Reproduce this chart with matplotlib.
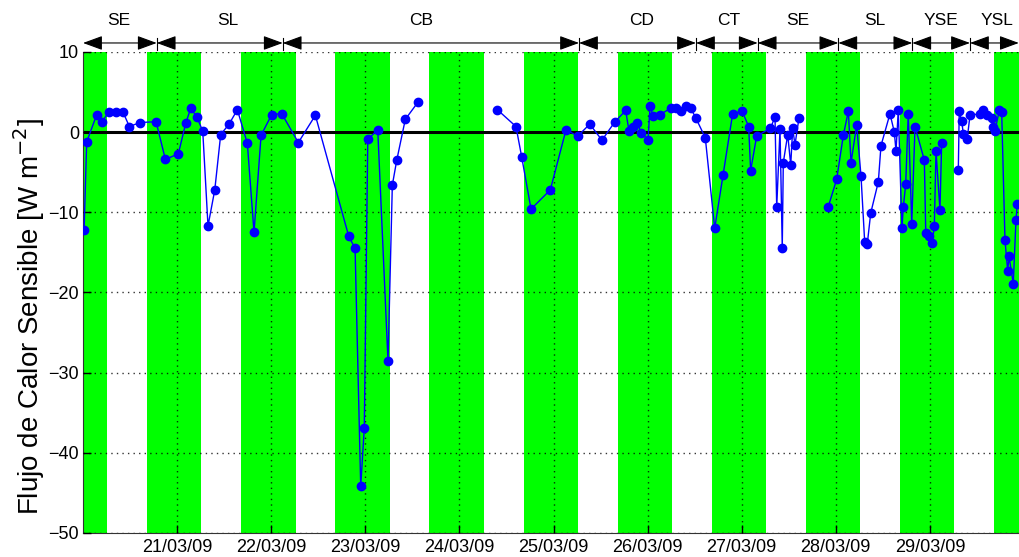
import numpy as np
import matplotlib
matplotlib.use('Agg')
import matplotlib.pyplot as plt
import matplotlib.transforms as mtransforms

plt.rcParams['font.family'] = ['Liberation Sans', 'DejaVu Sans']

# Time in days since 20/03/09 00:00, NaN marks a gap in the record
t = [0.011, 0.039, 0.146, 0.202, 0.273, 0.351, 0.425, 0.492, 0.606, 0.776,
     0.875, 1.013, 1.091, 1.145, 1.208, 1.272, 1.328, 1.400, 1.463, 1.552,
     1.640, 1.746, 1.817, 1.892, 2.005, 2.112, 2.288, 2.469, 2.824, 2.891,
     2.951, 2.989, 3.026, 3.132, 3.241, 3.287, 3.334, 3.425, 3.557, np.nan,
     4.403, 4.601, 4.662, 4.761, 4.966, 5.133, 5.257, 5.385, 5.515, 5.653,
     5.767, 5.802, 5.845, 5.884, 5.935, 6.004, 6.026, 6.061, 6.132, 6.249,
     6.302, 6.352, 6.408, 6.458, 6.511, 6.613, 6.713, 6.801, 6.904, 7.005,
     7.074, 7.095, 7.159, 7.306, 7.354, 7.372, 7.407, 7.431, 7.442, 7.489,
     7.521, 7.542, 7.566, 7.609, np.nan,
     7.920, 8.009, 8.080, 8.133, 8.162, 8.222, 8.268, 8.307, 8.335, 8.371,
     8.452, 8.480, 8.576, 8.622, 8.640, 8.664, 8.703, 8.717, 8.743, 8.770,
     8.807, 8.842, 8.941, 8.956, 8.994, 9.026, 9.047, 9.065, 9.107, 9.125,
     np.nan,
     9.302, 9.312, 9.338, 9.355, 9.397, 9.426, 9.532, 9.561, 9.604, 9.657,
     9.674, 9.692, 9.738, 9.763, 9.798, 9.827, 9.841, 9.886, 9.915, 9.929]

# Sensible heat flux [W m-2]
H = [-12.2, -1.2, 2.2, 1.3, 2.5, 2.5, 2.5, 0.7, 1.2, 1.3,
     -3.4, -2.7, 1.1, 3.0, 1.9, 0.15, -11.7, -7.2, -0.3, 1.0,
     2.8, -1.4, -12.5, -0.4, 2.2, 2.3, -1.3, 2.1, -13.0, -14.5,
     -44.2, -36.9, -0.9, 0.3, -28.6, -6.6, -3.5, 1.6, 3.7, np.nan,
     2.8, 0.7, -3.1, -9.6, -7.2, 0.3, -0.5, 1.0, -1.0, 1.3,
     2.7, 0.15, 0.6, 1.2, -0.1, -1.0, 3.2, 2.0, 2.2, 3.0,
     3.0, 2.6, 3.2, 3.0, 1.8, -0.7, -12.0, -5.4, 2.3, 2.6,
     0.7, -4.8, -0.5, 0.5, 1.9, -9.4, 0.4, -14.4, -3.8, -0.3,
     -4.1, 0.5, -1.6, 1.8, np.nan,
     -9.3, -5.9, -0.4, 2.6, -3.8, 0.9, -5.5, -13.7, -13.9, -10.1,
     -6.2, -1.7, 2.3, 0.0, -2.4, 2.8, -12.0, -9.4, -6.5, 2.3,
     -11.4, 0.7, -3.5, -12.6, -12.9, -13.8, -11.7, -2.4, -9.7, -1.3,
     np.nan,
     -4.7, 2.6, 1.4, -0.2, -0.8, 2.1, 2.3, 2.7, 2.1, 1.8,
     0.6, 0.2, 2.7, 2.5, -13.5, -17.3, -15.5, -18.9, -10.9, -9.0]

# Night periods (green bands), hours of sunset / sunrise
sunset_h = 16.35
sunrise_h = 6.2
days = list(range(0, 10))

# Tick labels
tick_pos = [1, 2, 3, 4, 5, 6, 7, 8, 9]
tick_labels = ['21/03/09', '22/03/09', '23/03/09', '24/03/09', '25/03/09',
               '26/03/09', '27/03/09', '28/03/09', '29/03/09']

# Condition segments along the top
seg_edges = [0, 0.783, 2.122, 5.271, 6.514, 7.170, 8.027, 8.813, 9.426, 9.945]
seg_names = ['SE', 'SL', 'CB', 'CD', 'CT', 'SE', 'SL', 'YSE', 'YSL']
seg_label_x = [0.383, 1.541, 3.592, 5.941, 6.865, 7.598, 8.417, 9.118, 9.713]

fig = plt.figure(figsize=(10.19, 5.57), dpi=100)
ax = fig.add_axes([0.0815, 0.0431, 0.9185, 0.8636])

green = '#00ff00'
ax.axvspan(0, sunrise_h / 24, color=green, lw=0, zorder=0)
for d in days:
    ax.axvspan(d + sunset_h / 24, d + 1 + sunrise_h / 24, color=green, lw=0, zorder=0)

ax.axhline(0, color='k', lw=2.2, zorder=2)
ax.plot(t, H, '-o', color='#0000ff', lw=1, ms=6, zorder=3)

ax.set_xlim(0, 9.947)
ax.set_ylim(-50, 10)
ax.set_yticks(range(-50, 11, 10))
ax.set_xticks(tick_pos)
ax.set_xticklabels(tick_labels)
ax.tick_params(direction='in', length=6, width=1, labelsize=13)
ax.tick_params(axis='y', pad=3)
ax.tick_params(axis='x', pad=4)
ax.grid(True, color='k', linestyle=(0, (1, 3)), lw=1, alpha=0.8)
ax.set_axisbelow(False)
for s in ['top', 'right']:
    ax.spines[s].set_visible(False)
ax.spines['left'].set_color('#333333')
ax.spines['bottom'].set_color('#333333')

ax.set_ylabel('Flujo de Calor Sensible [W m$^{-2}$]', fontsize=20)
ax.yaxis.set_label_coords(-0.039, 0.449)

trans = mtransforms.blended_transform_factory(ax.transData, ax.transAxes)
y_arrow = 1.0187
for i in range(len(seg_names)):
    ax.annotate('', xy=(seg_edges[i + 1], y_arrow), xytext=(seg_edges[i], y_arrow),
                xycoords=trans, textcoords=trans, annotation_clip=False,
                arrowprops=dict(arrowstyle='<|-|>,head_length=0.6,head_width=0.22',
                                color='k', lw=0.8, shrinkA=0, shrinkB=0,
                                mutation_scale=20))
    ax.text(seg_label_x[i], 1.066, seg_names[i], transform=trans,
            ha='center', va='center', fontsize=12.5)
for e in seg_edges[1:-1]:
    ax.plot([e, e], [1.004, 1.03], color='k', lw=0.8, transform=trans, clip_on=False)

fig.savefig('out.png', dpi=100)
